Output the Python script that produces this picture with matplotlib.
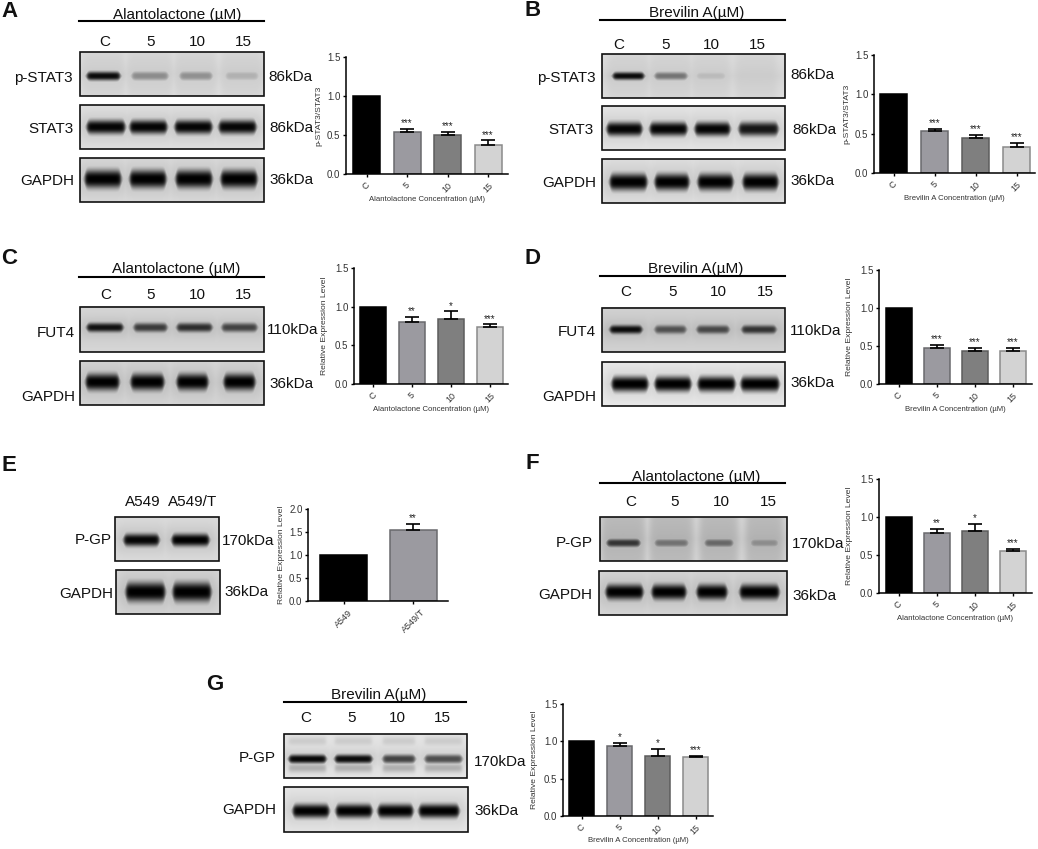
import numpy as np
import matplotlib
matplotlib.use("Agg")
import matplotlib.pyplot as plt

plt.rcParams["font.family"] = ["Liberation Sans", "DejaVu Sans"]

W = 1038
H = 849

# bar chart values
doses = ["C", "5", "10", "15"]
cells = ["A549", "A549/T"]

valsA = [1.0, 0.54, 0.50, 0.37]
errsA = [0, 0.04, 0.04, 0.06]
starsA = ["", "***", "***", "***"]

valsB = [1.0, 0.53, 0.45, 0.33]
errsB = [0, 0.03, 0.03, 0.05]
starsB = ["", "***", "***", "***"]

valsC = [1.0, 0.80, 0.84, 0.74]
errsC = [0, 0.07, 0.10, 0.03]
starsC = ["", "**", "*", "***"]

valsD = [1.0, 0.47, 0.43, 0.44]
errsD = [0, 0.04, 0.05, 0.04]
starsD = ["", "***", "***", "***"]

valsE = [1.0, 1.55]
errsE = [0, 0.12]
starsE = ["", "**"]

valsF = [1.0, 0.79, 0.81, 0.55]
errsF = [0, 0.05, 0.10, 0.03]
starsF = ["", "**", "*", "***"]

valsG = [1.0, 0.94, 0.81, 0.79]
errsG = [0, 0.04, 0.09, 0.02]
starsG = ["", "*", "*", "***"]

# band darkness per lane, 0 is no band, 1 is solid black
pstatA = [0.95, 0.35, 0.33, 0.18]
statA = [0.98, 0.98, 0.98, 0.97]
gapdhA = [1.0, 1.0, 1.0, 1.0]
pstatB = [0.95, 0.45, 0.12, 0.03]
statB = [0.98, 0.98, 0.98, 0.9]
gapdhB = [1.0, 1.0, 1.0, 1.0]
futC = [0.92, 0.72, 0.78, 0.68]
gapdhC = [1.0, 1.0, 1.0, 1.0]
futD = [0.95, 0.6, 0.65, 0.75]
gapdhD = [1.0, 1.0, 1.0, 1.0]
pgpE = [0.97, 1.0]
gapdhE = [1.0, 1.0]
pgpF = [0.75, 0.45, 0.5, 0.32]
gapdhF = [1.0, 1.0, 1.0, 1.0]
pgpG = [0.97, 0.95, 0.7, 0.65]
gapdhG = [1.0, 1.0, 1.0, 1.0]

barColors = ["#000000", "#9b9aa0", "#7f7f7f", "#d3d3d3"]
barEdges = ["#000000", "#69696d", "#5c5c5c", "#8a8a8a"]

fig = plt.figure(figsize=(W / 100, H / 100), dpi=100)
over = fig.add_axes([0, 0, 1, 1], zorder=0)


def drawChart(vals, errs, stars, names, ylabel, xlabel, left, right, top, bottom, centers, barW, ymax=1.5, yl=25):
    ax = fig.add_axes([left / W, 1 - bottom / H, (right - left) / W, (bottom - top) / H], zorder=2)
    ax.patch.set_alpha(0)
    step = centers[1] - centers[0]
    xs = np.arange(len(vals))
    ax.bar(xs, vals, width=barW / step, color=barColors[:len(vals)], edgecolor=barEdges[:len(vals)], linewidth=1.1)
    for i in xs:
        if errs[i] > 0:
            ax.errorbar(i, vals[i], yerr=[[0], [errs[i]]], color="black", capsize=4.8, elinewidth=1.2, capthick=1.2)
            ax.annotate(stars[i], (i, vals[i] + errs[i]), xytext=(0, 0.5), textcoords="offset points",
                        ha="center", va="bottom", fontsize=7, color="#222222")
    ax.set_xlim((left - centers[0]) / step, (right - centers[0]) / step)
    ax.set_ylim(0, ymax)
    ax.set_xticks(xs)
    ax.set_xticklabels(names, rotation=45, ha="center")
    ax.set_yticks(np.arange(0, ymax + 0.01, 0.5))
    ax.tick_params(axis="both", labelsize=7, length=2.5, width=1.0, pad=1.5, labelcolor="#333333")
    ax.tick_params(axis="x", labelsize=6.5, pad=2.5)
    for s in ["top", "right"]:
        ax.spines[s].set_visible(False)
    for s in ["left", "bottom"]:
        ax.spines[s].set_linewidth(1.1)
    ax.set_ylabel(ylabel, fontsize=6.1, color="#333333")
    ax.yaxis.set_label_coords(-yl / (right - left), 0.5)
    if xlabel:
        over.text((left + right) / 2, bottom + 25, xlabel, fontsize=5.6, color="#333333", ha="center", va="center")


def drawBlot(box, yc, hh, lanes, dark, bg=0.84, smear=0.0, ghosts=()):
    x0, y0, x1, y1 = box
    xx, yy = np.meshgrid(np.arange(x0, x1) + 0.5, np.arange(y0, y1) + 0.5)
    # membranes are a bit paler towards the top and bottom edge
    edge = np.minimum(yy - y0, y1 - yy) / (y1 - y0)
    img = bg + 0.08 * (0.5 - edge)
    d = np.zeros(img.shape)
    for (a, b), k in zip(lanes, dark):
        env = 0.5 * (np.tanh((xx - a) / 2.0) - np.tanh((xx - b) / 2.0))
        wide = 0.5 * (np.tanh((xx - a + 5) / 4) - np.tanh((xx - b - 5) / 4))
        tall = 1.35 * hh * np.sqrt(env) + 0.01
        d = np.maximum(d, k * env * np.exp(-np.abs((yy - yc) / tall) ** 2.6))
        d = np.maximum(d, 0.07 * k ** 0.5 * wide * np.exp(-((yy - yc) / (hh * 3)) ** 2))
        d = np.maximum(d, smear * wide)
        for dy, f in ghosts:
            d = np.maximum(d, f * env * np.exp(-((yy - yc - dy) / 4.5) ** 2))
    img = img * (1 - d)
    over.imshow(img, extent=(x0, x1, y1, y0), cmap="gray", vmin=0, vmax=1, aspect="auto", interpolation="bilinear", zorder=1)
    over.add_patch(plt.Rectangle((x0, y0), x1 - x0, y1 - y0, fill=False, edgecolor="#111111", linewidth=1.2, zorder=2))


def putText(x, y, s, size=11, ha="center", weight="normal"):
    over.text(x, y, s, fontsize=size, ha=ha, va="center", fontweight=weight, color="#111111", zorder=3)


def putHeader(title, tx, ty, lx0, lx1, ly, lanes, laneY):
    putText(tx, ty, title)
    over.plot([lx0, lx1], [ly, ly], color="black", linewidth=1.5, zorder=3)
    for x, s in zip(lanes, doses):
        putText(x, laneY, s)


# panel letters
for s, x, y in [("A", 9, 11), ("B", 533, 10), ("C", 9, 258), ("D", 533, 258), ("E", 9, 465), ("F", 532, 463), ("G", 215, 684)]:
    putText(x, y, s, size=16, weight="bold")

# A
putHeader("Alantolactone (µM)", 177, 15, 79, 264, 21, [104.5, 151, 197, 243], 42)
drawBlot((80, 52, 264, 96), 76, 3.2, [(87, 120), (132, 168), (180, 212), (226, 258)], pstatA, bg=0.84, smear=0.05)
drawBlot((80, 105, 264, 149), 127, 5, [(87, 125), (130, 167), (175, 212), (219, 256)], statA, bg=0.84)
drawBlot((80, 158, 264, 202), 179, 6.5, [(85, 121), (130, 166), (176, 212), (221, 257)], gapdhA, bg=0.82)
putText(73, 78, "p-STAT3", ha="right")
putText(74, 129, "STAT3", ha="right")
putText(74, 181, "GAPDH", ha="right")
putText(268, 77, "86kDa", ha="left")
putText(269, 128, "86kDa", ha="left")
putText(269, 180, "36kDa", ha="left")
drawChart(valsA, errsA, starsA, doses, "p-STAT3/STAT3", "Alantolactone Concentration (µM)", 346, 508, 57, 174, [366.5, 407, 447.5, 488], 27, yl=24)

# B
putHeader("Brevilin A(µM)", 697, 13, 600, 785, 20, [619, 666, 711, 757], 45)
drawBlot((602, 54, 785, 98), 76, 2.8, [(613, 644), (655, 687), (697, 725), (741, 772)], pstatB, bg=0.83, smear=0.04)
drawBlot((602, 106, 785, 150), 129, 5, [(607, 642), (650, 687), (695, 730), (739, 778)], statB, bg=0.86)
drawBlot((602, 159, 785, 203), 182, 6, [(610, 647), (655, 689), (698, 733), (743, 778)], gapdhB, bg=0.84)
putText(596, 78, "p-STAT3", ha="right")
putText(594, 130, "STAT3", ha="right")
putText(596, 183, "GAPDH", ha="right")
putText(790, 75, "86kDa", ha="left")
putText(792, 130, "86kDa", ha="left")
putText(790, 181, "36kDa", ha="left")
drawChart(valsB, errsB, starsB, doses, "p-STAT3/STAT3", "Brevilin A Concentration (µM)", 874, 1035, 55, 173, [893.5, 934.5, 974.5, 1014.5], 27, yl=24)

# C
putHeader("Alantolactone (µM)", 176, 269, 79, 264, 277, [106, 151, 197, 243], 295)
drawBlot((80, 307, 264, 352), 328, 3.2, [(87, 123), (134, 167), (177, 212), (222, 257)], futC, bg=0.8)
drawBlot((80, 361, 264, 405), 382, 6, [(86, 119), (131, 164), (177, 208), (224, 255)], gapdhC, bg=0.8)
putText(75, 333, "FUT4", ha="right")
putText(75, 397, "GAPDH", ha="right")
putText(267, 330, "110kDa", ha="left")
putText(269, 384, "36kDa", ha="left")
drawChart(valsC, errsC, starsC, doses, "Relative Expression Level", "Alantolactone Concentration (µM)", 354, 508, 268, 384, [373, 412, 450, 489], 26, yl=26)

# D
putHeader("Brevilin A(µM)", 696, 269, 600, 785, 276, [626, 673, 718, 765], 292)
drawBlot((602, 308, 785, 352), 330, 3.0, [(610, 642), (655, 686), (697, 729), (742, 776)], futD, bg=0.78)
drawBlot((602, 362, 785, 406), 384, 5.5, [(612, 648), (655, 691), (698, 735), (741, 779)], gapdhD, bg=0.88)
putText(596, 332, "FUT4", ha="right")
putText(596, 397, "GAPDH", ha="right")
putText(790, 331, "110kDa", ha="left")
putText(790, 383, "36kDa", ha="left")
drawChart(valsD, errsD, starsD, doses, "Relative Expression Level", "Brevilin A Concentration (µM)", 879, 1032, 270, 384, [898.5, 936.5, 974.5, 1013], 26, yl=26)

# E
putText(143, 502, cells[0])
putText(193, 502, cells[1])
drawBlot((115, 517, 219, 561), 540, 4.5, [(124, 159), (172, 209)], pgpE, bg=0.82)
drawBlot((116, 570, 220, 614), 592, 7, [(126, 165), (173, 211)], gapdhE, bg=0.8)
putText(112, 540, "P-GP", ha="right")
putText(113, 594, "GAPDH", ha="right")
putText(222, 541, "170kDa", ha="left")
putText(224, 592, "36kDa", ha="left")
drawChart(valsE, errsE, starsE, cells, "Relative Expression Level", "", 308, 448, 509, 601, [343.5, 413], 47, ymax=2.0, yl=23)

# F
putHeader("Alantolactone (µM)", 696, 477, 600, 785, 483, [631, 675, 721, 768], 502)
drawBlot((600, 517, 787, 561), 543, 3.0, [(607, 640), (655, 688), (705, 733), (751, 778)], pgpF, bg=0.8, smear=0.13)
drawBlot((599, 571, 787, 615), 592, 5.5, [(606, 643), (652, 686), (697, 727), (740, 779)], gapdhF, bg=0.8)
putText(593, 543, "P-GP", ha="right")
putText(592, 595, "GAPDH", ha="right")
putText(792, 544, "170kDa", ha="left")
putText(792, 596, "36kDa", ha="left")
drawChart(valsF, errsF, starsF, doses, "Relative Expression Level", "Alantolactone Concentration (µM)", 879, 1032, 479, 593, [898.5, 936.5, 974.5, 1013], 26, yl=26)

# G
putHeader("Brevilin A(µM)", 379, 695, 284, 466, 702, [306, 352, 397, 442], 718)
drawBlot((284, 734, 467, 778), 759, 3.2, [(289, 326), (335, 372), (383, 415), (425, 462)], pgpG, bg=0.86, ghosts=[(-18, 0.1), (9, 0.22)])
drawBlot((284, 787, 468, 832), 811, 5, [(293, 329), (336, 372), (378, 413), (419, 459)], gapdhG, bg=0.86)
putText(276, 758, "P-GP", ha="right")
putText(276, 810, "GAPDH", ha="right")
putText(474, 762, "170kDa", ha="left")
putText(474, 811, "36kDa", ha="left")
drawChart(valsG, errsG, starsG, doses, "Relative Expression Level", "Brevilin A Concentration (µM)", 563, 713, 704, 816, [581.5, 619.5, 657, 694.5], 25.5, yl=25)

over.set_xlim(0, W)
over.set_ylim(H, 0)
over.axis("off")

fig.savefig("out.png", dpi=100)
